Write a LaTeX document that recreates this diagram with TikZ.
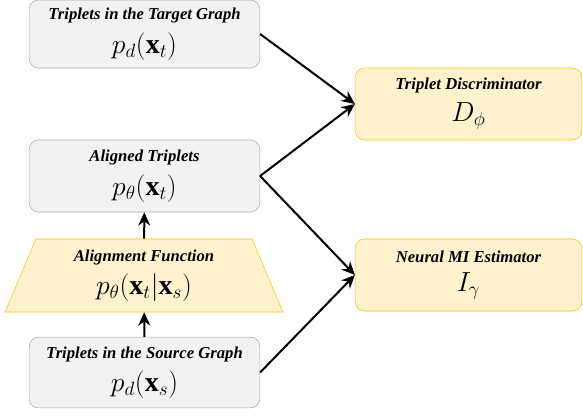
\documentclass[tikz,border=0pt]{standalone}
\usepackage{amsmath,amssymb}
\usepackage{fontspec}
\setmainfont{Liberation Serif}
\usepackage{xcolor}
\usepackage{tikz}
\usetikzlibrary{arrows.meta,positioning,shapes.geometric,calc}

\definecolor{boxgray}{HTML}{F2F2F2}
\definecolor{linegray}{HTML}{A6A6A6}
\definecolor{boxyellow}{HTML}{FFF2CC}
\definecolor{lineyellow}{HTML}{FFC000}

\newcommand{\ttltext}[1]{{\fontsize{12.5}{14}\selectfont\bfseries\itshape #1}}
\newcommand{\mthtext}[1]{{\fontsize{21}{23}\selectfont $#1$}}

\begin{document}
\begin{tikzpicture}[
  x=0.75pt, y=-0.75pt,
  dist/.style={rectangle, draw=linegray, fill=boxgray, rounded corners=7pt, thin, minimum width=173pt, minimum height=52pt, align=center, inner sep=1pt},
  netbox/.style={rectangle, draw=lineyellow, fill=boxyellow, rounded corners=7pt, thin, minimum width=170pt, minimum height=54pt, align=center, inner sep=1pt},
  mapbox/.style={trapezium, trapezium stretches=true, draw=lineyellow, fill=boxyellow, thin, minimum width=208.5pt, minimum height=54.75pt, trapezium left angle=69, trapezium right angle=69, align=center, inner sep=0pt},
  edge/.style={line width=1.5pt, -{Stealth[length=10pt,width=9pt]}, draw=black}
]
\useasboundingbox (0,0) rectangle (583,415);

% Distributions
\node[dist, minimum height=51pt] (tgt) at (144.5, 34) {\ttltext{Triplets in the Target Graph}\\[6pt] \mthtext{p_d(\mathbf{x}_t)}};
\node[dist, minimum height=54pt] (aln) at (144.5, 176) {\ttltext{Aligned Triplets}\\[6pt] \mthtext{p_\theta(\mathbf{x}_t)}};
\node[dist, minimum height=53pt] (src) at (144.5, 372.5) {\ttltext{Triplets in the Source Graph}\\[6pt] \mthtext{p_d(\mathbf{x}_s)}};

% Alignment
\node[mapbox] (fun) at (144, 275.5) {\ttltext{Alignment Function}\\[6pt] \mthtext{p_\theta(\mathbf{x}_t|\mathbf{x}_s)}};

% Networks
\node[netbox] (disc) at (468.5, 104) {\ttltext{Triplet Discriminator}\\[6pt] \mthtext{D_\phi}};
\node[netbox] (mine) at (468.5, 275) {\ttltext{Neural MI Estimator}\\[6pt] \mthtext{I_\gamma}};

% Edges
\draw[edge] (src) -- (fun);
\draw[edge] (fun) -- (aln);
\draw[edge] (tgt.east) -- (disc.west);
\draw[edge] (aln.east) -- (disc.west);
\draw[edge] (aln.east) -- (mine.west);
\draw[edge] (src.east) -- (mine.west);

\end{tikzpicture}
\end{document}
